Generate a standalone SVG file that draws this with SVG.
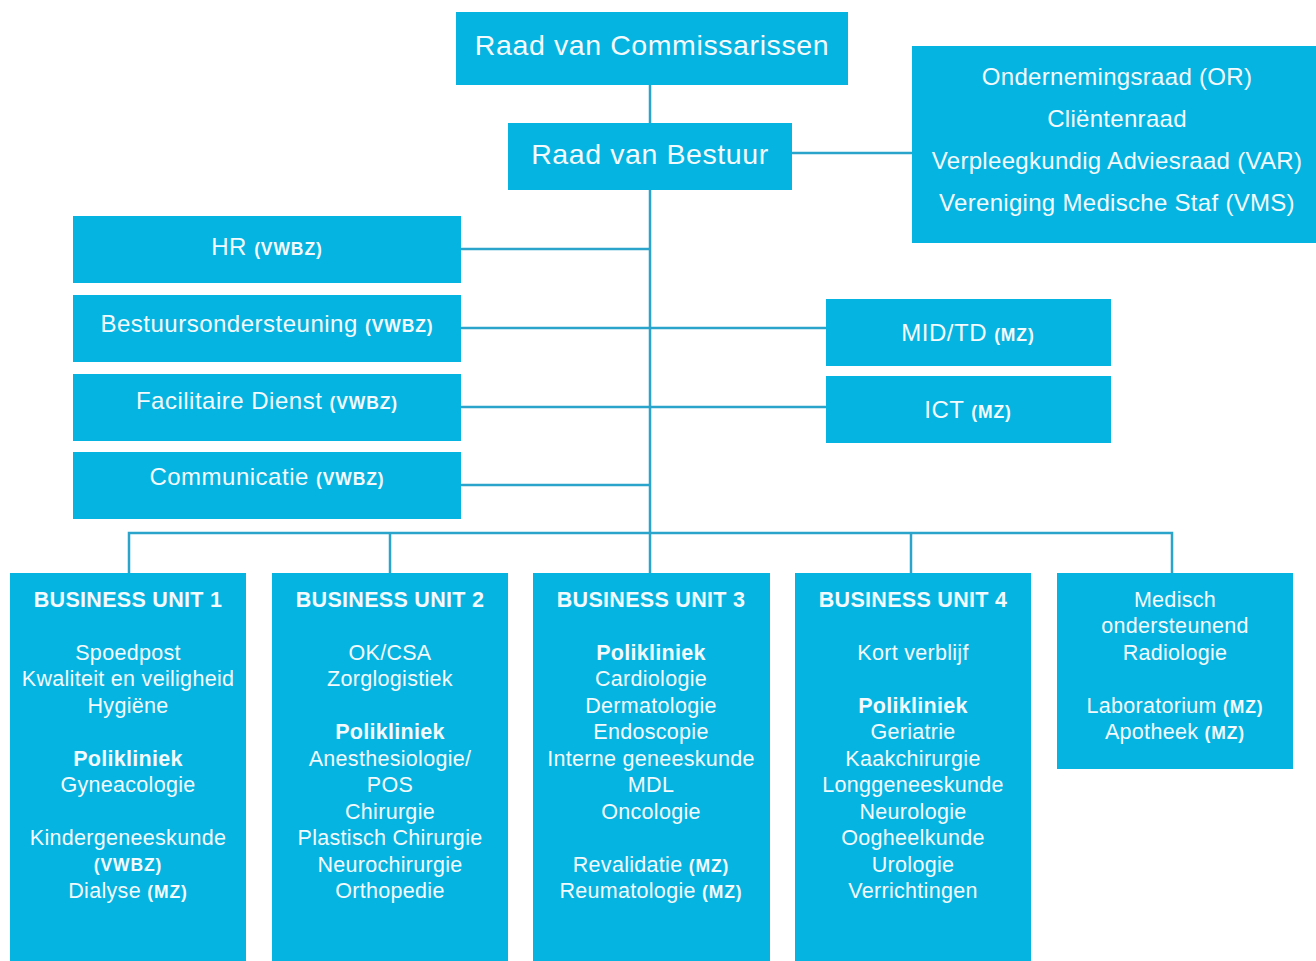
<svg xmlns="http://www.w3.org/2000/svg" width="1316" height="961" viewBox="0 0 1316 961">
<style>
.box{fill:#05b4e1}
.t{font-family:"Liberation Sans",Arial,sans-serif;fill:#f4fbfe;text-anchor:middle}
.big{font-size:28.5px;letter-spacing:0.6px}
.med{font-size:24px;letter-spacing:0.5px}
.rt{font-size:24px;letter-spacing:0.3px}
.bu{font-size:21.5px;letter-spacing:0.3px}
.b{font-weight:bold}
.sm{font-size:17.5px;font-weight:bold;letter-spacing:0.9px}
.c{stroke:#2aa4cb;stroke-width:2.5;fill:none}
</style>
<rect width="1316" height="961" fill="#ffffff"/>
<g id="connectors">
<line class="c" x1="650" y1="85" x2="650" y2="533"/>
<line class="c" x1="792" y1="153" x2="912" y2="153"/>
<line class="c" x1="461" y1="249" x2="650" y2="249"/>
<line class="c" x1="461" y1="328" x2="826" y2="328"/>
<line class="c" x1="461" y1="407" x2="826" y2="407"/>
<line class="c" x1="461" y1="485" x2="650" y2="485"/>
<polyline class="c" points="129,573 129,533 1172,533 1172,573"/>
<line class="c" x1="390" y1="533" x2="390" y2="573"/>
<line class="c" x1="650" y1="533" x2="650" y2="573"/>
<line class="c" x1="911" y1="533" x2="911" y2="573"/>
</g>
<g id="rvc">
<rect class="box" x="456" y="12" width="392" height="73"/>
<text class="t big" x="652" y="55">Raad van Commissarissen</text>
</g>
<g id="rvb">
<rect class="box" x="508" y="123" width="284" height="67"/>
<text class="t big" x="650" y="164">Raad van Bestuur</text>
</g>
<g id="raden">
<rect class="box" x="912" y="46" width="404" height="197"/>
<text class="t rt" x="1117" y="85">Ondernemingsraad (OR)</text>
<text class="t rt" x="1117" y="127">Cliëntenraad</text>
<text class="t rt" x="1117" y="169">Verpleegkundig Adviesraad (VAR)</text>
<text class="t rt" x="1117" y="211">Vereniging Medische Staf (VMS)</text>
</g>
<g id="hr">
<rect class="box" x="73" y="216" width="388" height="67"/>
<text class="t med" x="267" y="255">HR <tspan class="sm">(VWBZ)</tspan></text>
</g>
<g id="bestuursondersteuning">
<rect class="box" x="73" y="295" width="388" height="67"/>
<text class="t med" x="267" y="332">Bestuursondersteuning <tspan class="sm">(VWBZ)</tspan></text>
</g>
<g id="facilitaire">
<rect class="box" x="73" y="374" width="388" height="67"/>
<text class="t med" x="267" y="409">Facilitaire Dienst <tspan class="sm">(VWBZ)</tspan></text>
</g>
<g id="communicatie">
<rect class="box" x="73" y="452" width="388" height="67"/>
<text class="t med" x="267" y="485">Communicatie <tspan class="sm">(VWBZ)</tspan></text>
</g>
<g id="midtd">
<rect class="box" x="826" y="299" width="285" height="67"/>
<text class="t med" x="968" y="341">MID/TD <tspan class="sm">(MZ)</tspan></text>
</g>
<g id="ict">
<rect class="box" x="826" y="376" width="285" height="67"/>
<text class="t med" x="968" y="418">ICT <tspan class="sm">(MZ)</tspan></text>
</g>
<g id="bu1">
<rect class="box" x="10" y="573" width="236" height="388"/>
<text class="t bu b" x="128" y="607">BUSINESS UNIT 1</text>
<text class="t bu" x="128" y="660">Spoedpost</text>
<text class="t bu" x="128" y="686">Kwaliteit en veiligheid</text>
<text class="t bu" x="128" y="713">Hygiëne</text>
<text class="t bu b" x="128" y="766">Polikliniek</text>
<text class="t bu" x="128" y="792">Gyneacologie</text>
<text class="t bu" x="128" y="845">Kindergeneeskunde</text>
<text class="t sm" x="128" y="871">(VWBZ)</text>
<text class="t bu" x="128" y="898">Dialyse <tspan class="sm">(MZ)</tspan></text>
</g>
<g id="bu2">
<rect class="box" x="272" y="573" width="236" height="388"/>
<text class="t bu b" x="390" y="607">BUSINESS UNIT 2</text>
<text class="t bu" x="390" y="660">OK/CSA</text>
<text class="t bu" x="390" y="686">Zorglogistiek</text>
<text class="t bu b" x="390" y="739">Polikliniek</text>
<text class="t bu" x="390" y="766">Anesthesiologie/</text>
<text class="t bu" x="390" y="792">POS</text>
<text class="t bu" x="390" y="819">Chirurgie</text>
<text class="t bu" x="390" y="845">Plastisch Chirurgie</text>
<text class="t bu" x="390" y="872">Neurochirurgie</text>
<text class="t bu" x="390" y="898">Orthopedie</text>
</g>
<g id="bu3">
<rect class="box" x="533" y="573" width="237" height="388"/>
<text class="t bu b" x="651" y="607">BUSINESS UNIT 3</text>
<text class="t bu b" x="651" y="660">Polikliniek</text>
<text class="t bu" x="651" y="686">Cardiologie</text>
<text class="t bu" x="651" y="713">Dermatologie</text>
<text class="t bu" x="651" y="739">Endoscopie</text>
<text class="t bu" x="651" y="766">Interne geneeskunde</text>
<text class="t bu" x="651" y="792">MDL</text>
<text class="t bu" x="651" y="819">Oncologie</text>
<text class="t bu" x="651" y="872">Revalidatie <tspan class="sm">(MZ)</tspan></text>
<text class="t bu" x="651" y="898">Reumatologie <tspan class="sm">(MZ)</tspan></text>
</g>
<g id="bu4">
<rect class="box" x="795" y="573" width="236" height="388"/>
<text class="t bu b" x="913" y="607">BUSINESS UNIT 4</text>
<text class="t bu" x="913" y="660">Kort verblijf</text>
<text class="t bu b" x="913" y="713">Polikliniek</text>
<text class="t bu" x="913" y="739">Geriatrie</text>
<text class="t bu" x="913" y="766">Kaakchirurgie</text>
<text class="t bu" x="913" y="792">Longgeneeskunde</text>
<text class="t bu" x="913" y="819">Neurologie</text>
<text class="t bu" x="913" y="845">Oogheelkunde</text>
<text class="t bu" x="913" y="872">Urologie</text>
<text class="t bu" x="913" y="898">Verrichtingen</text>
</g>
<g id="medisch">
<rect class="box" x="1057" y="573" width="236" height="196"/>
<text class="t bu" x="1175" y="607">Medisch</text>
<text class="t bu" x="1175" y="633">ondersteunend</text>
<text class="t bu" x="1175" y="660">Radiologie</text>
<text class="t bu" x="1175" y="713">Laboratorium <tspan class="sm">(MZ)</tspan></text>
<text class="t bu" x="1175" y="739">Apotheek <tspan class="sm">(MZ)</tspan></text>
</g>
</svg>
